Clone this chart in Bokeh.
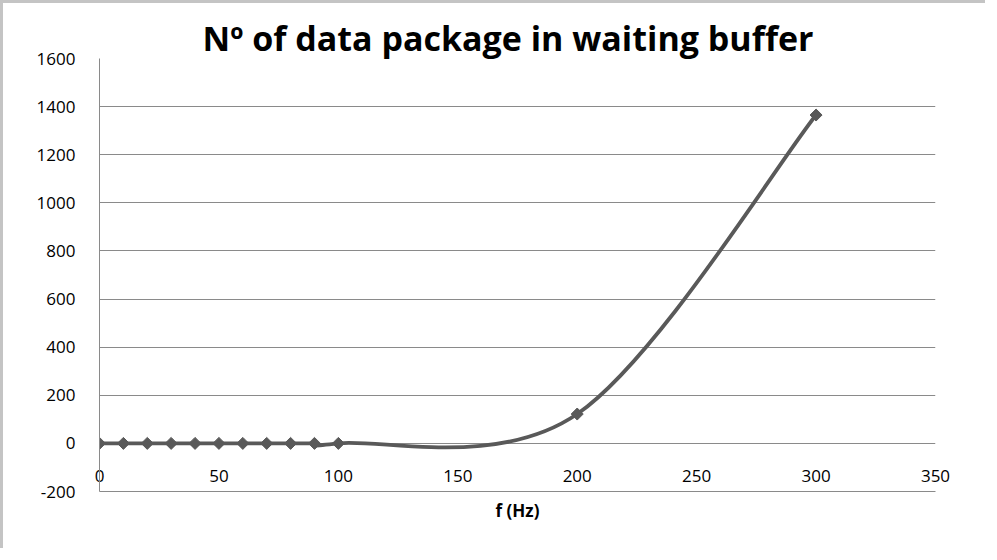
import math
from bokeh.plotting import figure
from bokeh.models import Range1d, FixedTicker, PrintfTickFormatter
from bokeh.embed import file_html
from bokeh.resources import INLINE

# ---- data ----
chart_title = "Nº of data package in waiting buffer"
x_axis_label = "f (Hz)"
freq_hz = [0, 10, 20, 30, 40, 50, 60, 70, 80, 90, 100, 200, 300]
packages = [0, 0, 0, 0, 0, 0, 0, 0, 0, 0, 0, 122, 1365]
x_ticks = [0, 50, 100, 150, 200, 250, 300, 350]
y_ticks = [-200, 0, 200, 400, 600, 800, 1000, 1200, 1400, 1600]

LINE = "#595959"
GRID = "#8a8a8a"
FONT = "Open Sans"

# ---- smoothed line (Excel-style Catmull-Rom Bezier through the points) ----
n = len(freq_hz)
bx0, by0, bx1, by1, bcx0, bcy0, bcx1, bcy1 = ([] for _ in range(8))
for i in range(n - 1):
    im = i - 1 if i > 0 else i
    ip = i + 2 if i + 2 < n else i + 1
    bx0.append(freq_hz[i]); by0.append(packages[i])
    bx1.append(freq_hz[i + 1]); by1.append(packages[i + 1])
    bcx0.append(freq_hz[i] + (freq_hz[i + 1] - freq_hz[im]) / 6.0)
    bcy0.append(packages[i] + (packages[i + 1] - packages[im]) / 6.0)
    bcx1.append(freq_hz[i + 1] - (freq_hz[ip] - freq_hz[i]) / 6.0)
    bcy1.append(packages[i + 1] - (packages[ip] - packages[i]) / 6.0)

p = figure(width=985, height=548, output_backend="svg", toolbar_location=None,
           x_range=Range1d(0, 350), y_range=Range1d(-200, 1600),
           min_border_left=96, min_border_right=53, min_border_top=55,
           min_border_bottom=60)
p.styles = {"border-left": "3px solid #c4c4c4", "border-top": "3px solid #c4c4c4"}
p.outline_line_color = None
p.background_fill_color = "white"
p.border_fill_color = "white"

# title
p.title.text = chart_title
p.title.align = "left"
p.title.offset = 103
p.title.text_font = FONT
p.title.text_font_style = "bold"
p.title.text_font_size = "34px"
p.title.text_color = "#000000"
p.title.standoff = -4

# grid
p.xgrid.visible = False
p.ygrid.ticker = FixedTicker(ticks=y_ticks)
p.ygrid.grid_line_color = GRID
p.ygrid.grid_line_width = 1

# y axis
p.yaxis.ticker = FixedTicker(ticks=y_ticks)
p.yaxis.formatter = PrintfTickFormatter(format="%d")
p.yaxis.axis_line_color = GRID
p.yaxis.axis_line_width = 1
p.yaxis.major_tick_line_color = None
p.yaxis.minor_tick_line_color = None
p.yaxis.major_label_standoff = 18
p.yaxis.major_label_text_font = FONT
p.yaxis.major_label_text_font_size = "17px"
p.yaxis.major_label_text_color = "#000000"

# x axis: labels sit just under the y = 0 line, title below the frame
xa = p.xaxis[0]
xa.ticker = FixedTicker(ticks=x_ticks)
xa.axis_line_color = GRID
xa.major_tick_line_color = None
xa.minor_tick_line_color = None
xa.major_label_standoff = -28
xa.major_label_text_font = FONT
xa.major_label_text_font_size = "17px"
xa.major_label_text_color = "#000000"
xa.axis_label = x_axis_label
xa.axis_label_text_font = FONT
xa.axis_label_text_font_style = "bold"
xa.axis_label_text_font_size = "17px"
xa.axis_label_text_color = "#000000"
xa.axis_label_standoff = 14

# series
p.bezier(x0=bx0, y0=by0, x1=bx1, y1=by1, cx0=bcx0, cy0=bcy0, cx1=bcx1, cy1=bcy1,
         line_color=LINE, line_width=3.8)
p.scatter(freq_hz, packages, marker="square", angle=math.pi / 4, size=8.5,
          fill_color=LINE, line_color=LINE)

open("out.html", "w").write(file_html(p, INLINE))
